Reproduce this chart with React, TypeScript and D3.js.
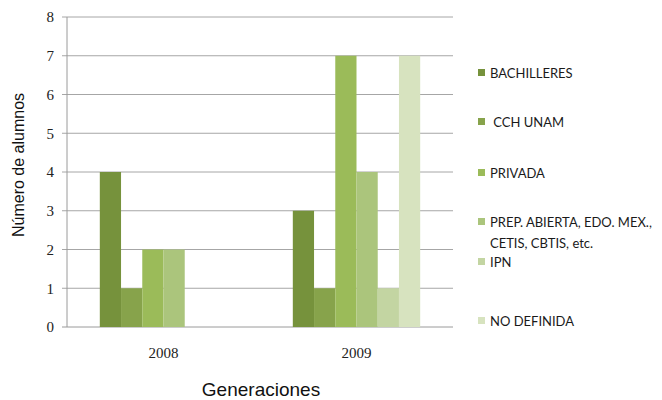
import * as d3 from 'd3';

const categories = ['2008', '2009'];
const seriesNames = [
  'BACHILLERES',
  ' CCH UNAM',
  'PRIVADA',
  'PREP. ABIERTA, EDO. MEX.,|CETIS, CBTIS, etc.',
  'IPN',
  'NO DEFINIDA',
];
const values2008 = [4, 1, 2, 2, 0, 0];
const values2009 = [3, 1, 7, 4, 1, 7];
const seriesColors = ['#76923c', '#87a34b', '#9bbb59', '#abc57c', '#c3d5a2', '#d7e3bf'];
const yTicks = [0, 1, 2, 3, 4, 5, 6, 7, 8];
const legendY = [73, 122, 173, 222, 262, 321];

const width = 662;
const height = 400;
const margin = { top: 17, right: 209, bottom: 73, left: 67 };
const sans = "Arial, 'Liberation Sans', sans-serif";
const serif = "'Liberation Serif', 'Times New Roman', serif";

export default function App() {
  const rows = [values2008, values2009];
  const x0 = d3.scaleBand<string>()
    .domain(categories)
    .range([margin.left, width - margin.right])
    .paddingInner(0.34)
    .paddingOuter(0.17);
  const x1 = d3.scaleBand<number>()
    .domain(d3.range(seriesNames.length))
    .range([0, x0.bandwidth()]);
  const y = d3.scaleLinear().domain([0, 8]).range([height - margin.bottom, margin.top]);
  const xl = margin.left;
  const xr = width - margin.right;

  return (
    <svg width={width} height={height} style={{ position: 'absolute', left: 0, top: 0, background: '#fff' }}>
      {yTicks.map(t => (
        <g key={t}>
          <line x1={xl - 5} x2={xr} y1={y(t)} y2={y(t)} stroke={t === 0 ? '#9a9a9a' : '#a6a6a6'} strokeWidth={1} />
          <text x={xl - 13} y={y(t)} dy="0.35em" textAnchor="end" fontFamily={serif} fontSize={15} fill="#222">
            {t}
          </text>
        </g>
      ))}
      <line x1={xl} x2={xl} y1={y(8)} y2={y(0)} stroke="#9a9a9a" />
      {categories.map((c, ci) => (
        <g key={c}>
          {rows[ci].map((v, si) =>
            v > 0 ? (
              <rect
                key={si}
                x={(x0(c) ?? 0) + (x1(si) ?? 0)}
                y={y(v)}
                width={x1.bandwidth()}
                height={y(0) - y(v)}
                fill={seriesColors[si]}
              />
            ) : null
          )}
          <text
            x={(x0(c) ?? 0) + x0.bandwidth() / 2}
            y={358}
            textAnchor="middle"
            fontFamily={serif}
            fontSize={15}
            fill="#222"
          >
            {c}
          </text>
        </g>
      ))}
      <text
        transform={`translate(24,${(y(0) + y(8)) / 2 - 7}) rotate(-90)`}
        textAnchor="middle"
        fontFamily={sans}
        fontSize={16}
        fill="#111"
      >
        Número de alumnos
      </text>
      <text x={(xl + xr) / 2 + 1} y={396} textAnchor="middle" fontFamily={sans} fontSize={19} fill="#111">
        Generaciones
      </text>
      {seriesNames.map((name, i) => (
        <g key={name}>
          <rect x={478} y={legendY[i] - 4} width={7} height={7} fill={seriesColors[i]} />
          {name.split('|').map((line, li) => (
            <text
              key={li}
              x={490}
              y={legendY[i] + li * 21}
              dy="0.35em"
              fontFamily="Lato"
              fontSize={13}
              fill="#1a1a1a"
              style={{ whiteSpace: 'pre' }}
            >
              {line}
            </text>
          ))}
        </g>
      ))}
    </svg>
  );
}
